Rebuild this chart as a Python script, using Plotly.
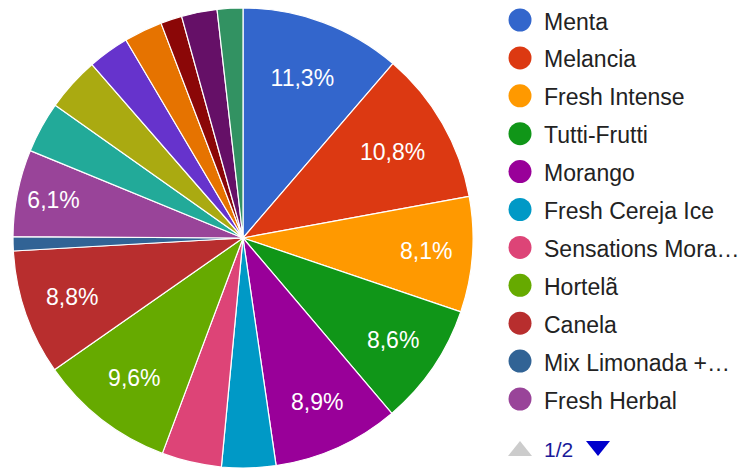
import plotly.graph_objects as go

# ---- data ----
labels = ["Menta", "Melancia", "Fresh Intense", "Tutti-Frutti", "Morango",
          "Fresh Cereja Ice", "Sensations Mora…", "Hortelã", "Canela",
          "Mix Limonada +…", "Fresh Herbal",
          "Página 2 - 1", "Página 2 - 2", "Página 2 - 3", "Página 2 - 4",
          "Página 2 - 5", "Página 2 - 6", "Página 2 - 7"]
values = [11.3, 10.8, 8.1, 8.6, 8.9, 3.8, 4.2, 9.6, 8.8, 1.0, 6.1,
          3.6, 3.8, 2.9, 2.7, 1.5, 2.5, 1.8]
colors = ["#3366cc", "#dc3912", "#ff9900", "#109618", "#990099", "#0099c6",
          "#dd4477", "#66aa00", "#b82e2e", "#316395", "#994499", "#22aa99",
          "#aaaa11", "#6633cc", "#e67300", "#8b0707", "#651067", "#329262"]
legend_count = 11          # entries visible on legend page 1
pager_text = "1/2"
label_threshold = 5.0      # slices smaller than this get no label

total = sum(values)
slice_text = [(f"{v / total * 100:.1f}%".replace(".", ",")
               if v / total * 100 >= label_threshold else "") for v in values]

W, H = 748, 469
OFF = 8  # page body margin: figure origin sits 8px right/down in the window


def px(x):
    return (x - OFF) / W


def py(y):
    return 1 - (y - OFF) / H


FONT = "Liberation Sans, Arial"

fig = go.Figure(go.Pie(
    labels=labels,
    values=values,
    sort=False,
    direction="clockwise",
    rotation=0,
    marker=dict(colors=colors, line=dict(color="white", width=1.2)),
    text=slice_text,
    textinfo="text",
    textposition="inside",
    insidetextorientation="horizontal",
    textfont=dict(color="white", size=23, family=FONT),
    hoverinfo="label+percent",
    showlegend=False,
    domain=dict(x=[px(13), px(473)], y=[py(468), py(8)]),
))

shapes = []
annotations = []
x_dot = 520
x_text = 542
y0 = 21.5
dy = 37.9
r = 11.5
for i in range(legend_count):
    yc = y0 + i * dy
    shapes.append(dict(type="circle", xref="paper", yref="paper",
                       x0=px(x_dot - r), x1=px(x_dot + r),
                       y0=py(yc + r - 1.5), y1=py(yc - r - 1.5),
                       fillcolor=colors[i], line=dict(width=0)))
    annotations.append(dict(xref="paper", yref="paper", x=px(x_text), y=py(yc),
                            text=labels[i], showarrow=False, xanchor="left",
                            yanchor="middle",
                            font=dict(size=23, color="#222222", family=FONT)))

# pager
yt, yb = 441, 456
shapes.append(dict(type="path", xref="paper", yref="paper",
                   path=f"M {px(508)},{py(yb)} L {px(532)},{py(yb)} L {px(520)},{py(yt)} Z",
                   fillcolor="#cccccc", line=dict(width=0)))
shapes.append(dict(type="path", xref="paper", yref="paper",
                   path=f"M {px(586)},{py(yt)} L {px(610)},{py(yt)} L {px(598)},{py(yb)} Z",
                   fillcolor="#0000cc", line=dict(width=0)))
annotations.append(dict(xref="paper", yref="paper", x=px(542), y=py(449),
                        text=pager_text, showarrow=False, xanchor="left", yanchor="middle",
                        font=dict(size=21, color="#1a1a99", family=FONT)))

fig.update_layout(
    width=W, height=H,
    margin=dict(l=0, r=0, t=0, b=0),
    paper_bgcolor="white",
    plot_bgcolor="white",
    shapes=shapes,
    annotations=annotations,
    separators=",.",
)

fig.write_html("out.html")
